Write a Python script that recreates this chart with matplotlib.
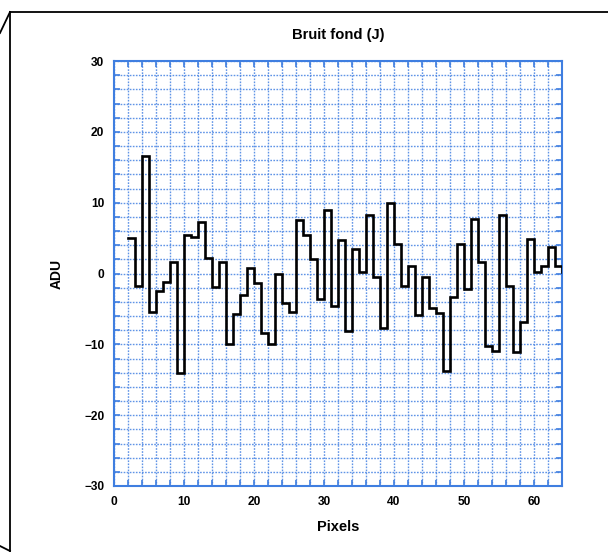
import matplotlib
matplotlib.use("Agg")
import matplotlib.pyplot as plt
from matplotlib.lines import Line2D
from matplotlib.ticker import MultipleLocator

plt.rcParams['font.family'] = ['Liberation Sans', 'DejaVu Sans']

# Data: pixel index and background noise (ADU)
pixels = list(range(2, 65))
adu = [5.0, -1.7, 16.6, -5.4, -2.4, -1.2, 1.6, -14.0, 5.5, 5.1,
       7.3, 2.2, -1.9, 1.6, -10.0, -5.7, -3.1, 0.75, -1.4, -8.4,
       -9.9, -0.1, -4.2, -5.4, 7.6, 5.5, 2.0, -3.6, 8.9, -4.6,
       4.8, -8.1, 3.5, 0.2, 8.3, -0.5, -7.7, 10.0, 4.1, -1.8,
       1.0, -5.8, -0.5, -4.9, -5.6, -13.7, -3.3, 4.1, -2.2, 7.7,
       1.6, -10.3, -11.0, 8.3, -1.8, -11.1, -6.9, 4.9, 0.2, 1.0,
       3.7, 1.0, 0.2]

x_ticks = [0, 10, 20, 30, 40, 50, 60]
y_ticks = [-30, -20, -10, 0, 10, 20, 30]

title = "Bruit fond (J)"
xlabel = "Pixels"
ylabel = "ADU"

blue = "#3f7ee0"
grid_blue = "#4f88e4"

fig = plt.figure(figsize=(6.08, 5.52), dpi=100)
ax = fig.add_axes([114/608, 1-486/552, (562-114)/608, (486-61)/552])

ax.plot(pixels, adu, drawstyle='steps-post', color='black', lw=1.9,
        solid_joinstyle='miter', zorder=3)

ax.set_xlim(0, 64)
ax.set_ylim(-30, 30)
ax.set_xticks(x_ticks)
ax.set_yticks(y_ticks)
ax.xaxis.set_minor_locator(MultipleLocator(2))
ax.yaxis.set_minor_locator(MultipleLocator(2))

ax.grid(which='both', color=grid_blue, linestyle=(0, (1.2, 1.0)), linewidth=1.0, alpha=0.9)
for s in ax.spines.values():
    s.set_color(blue)
    s.set_linewidth(1.5)

ax.tick_params(which='both', direction='in', top=True, right=True,
               color=blue, width=1.2, length=4.5)
ax.tick_params(which='major', labelsize=8.6, pad=7)
for lab in ax.get_xticklabels() + ax.get_yticklabels():
    lab.set_fontweight('bold')

ax.set_title(title, fontsize=10.6, fontweight='bold', pad=16)
ax.set_xlabel(xlabel, fontsize=10.5, fontweight='bold', labelpad=9)
ax.set_ylabel(ylabel, fontsize=10, fontweight='bold', labelpad=15)

# Outer frame
W, H = 608, 552
def fx(px): return px / W
def fy(py): return 1 - py / H
frame_kw = dict(color='black', lw=1.3, transform=fig.transFigure)
fig.add_artist(Line2D([fx(10), fx(608)], [fy(12), fy(12)], **frame_kw))
fig.add_artist(Line2D([fx(10), fx(10)], [fy(12), fy(551)], **frame_kw))
fig.add_artist(Line2D([fx(0), fx(10)], [fy(33), fy(12)], **frame_kw))
fig.add_artist(Line2D([fx(0), fx(10)], [fy(546), fy(551)], **frame_kw))

fig.savefig("out.png", dpi=100)
